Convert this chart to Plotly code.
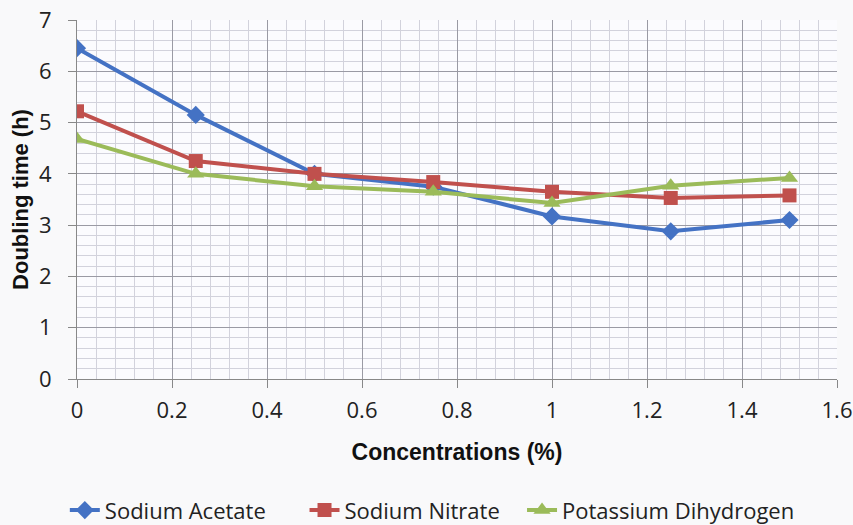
import plotly.graph_objects as go

conc = [0, 0.25, 0.5, 0.75, 1.0, 1.25, 1.5]
sodium_acetate = [6.45, 5.15, 4.0, 3.75, 3.17, 2.88, 3.1]
sodium_nitrate = [5.22, 4.25, 4.0, 3.84, 3.65, 3.53, 3.58]
potassium_dihydrogen = [4.68, 4.0, 3.76, 3.65, 3.43, 3.77, 3.92]

series = [
    ("Sodium Acetate", sodium_acetate, "#4472C4", "diamond", 14, "legend", 0.076),
    ("Sodium Nitrate", sodium_nitrate, "#C0504D", "square", 14, "legend2", 0.357),
    ("Potassium Dihydrogen", potassium_dihydrogen, "#9BBB59", "triangle-up", 15, "legend3", 0.612),
]

fig = go.Figure()
legends = {}
for name, vals, color, sym, sz, lg, lx in series:
    fig.add_trace(go.Scatter(
        x=conc, y=vals, name=name, mode="lines+markers",
        line=dict(color=color, width=4),
        marker=dict(symbol=sym, size=sz, color=color),
        legend=lg,
    ))
    legends[lg] = dict(orientation="h", x=lx, xanchor="left", xref="container",
                       yref="container", y=0.028, yanchor="middle",
                       font=dict(size=22), bgcolor="rgba(0,0,0,0)")

fig.update_layout(
    width=853, height=525,
    paper_bgcolor="#f9f9fa",
    plot_bgcolor="#fbfbfe",
    margin=dict(l=77, r=16, t=20, b=146, autoexpand=False),
    font=dict(family="Open Sans, Noto Sans, sans-serif", size=22, color="#222"),
    showlegend=True,
    **legends,
)
fig.update_xaxes(
    range=[0, 1.6], dtick=0.2, tick0=0,
    showgrid=True, gridcolor="#9a9aa4", gridwidth=1,
    minor=dict(dtick=0.04, showgrid=True, gridcolor="#d2d2dc", gridwidth=1,
               ticks=""),
    showline=True, linecolor="#888", linewidth=1,
    ticks="outside", ticklen=8, tickcolor="#888", ticklabelstandoff=4,
    zeroline=False, automargin=False,
    title=dict(text="<b>Concentrations (%)</b>", font=dict(family="Liberation Sans, Arial", size=23, color="#111"), standoff=20),
)
fig.update_yaxes(
    range=[0, 7], dtick=1, tick0=0,
    showgrid=True, gridcolor="#9a9aa4", gridwidth=1,
    minor=dict(dtick=0.2, showgrid=True, gridcolor="#d2d2dc", gridwidth=1, ticks=""),
    showline=True, linecolor="#888", linewidth=1,
    ticks="outside", ticklen=8, tickcolor="#888", ticklabelstandoff=12,
    zeroline=False, automargin=False,
    title=dict(text="<b>Doubling time (h)</b>", font=dict(family="Liberation Sans, Arial", size=22, color="#111"), standoff=4),
)
fig.write_html("out.html")
